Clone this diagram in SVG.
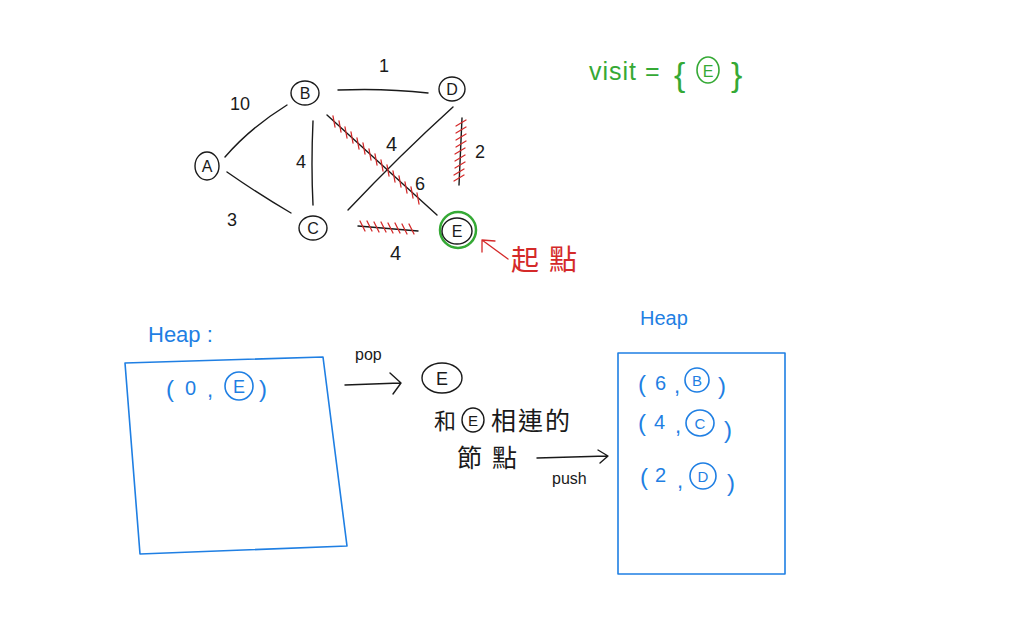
<svg xmlns="http://www.w3.org/2000/svg" width="1024" height="640" viewBox="0 0 1024 640">
<style>
.ink{fill:none;stroke:#1a1a1a;stroke-width:1.4;stroke-linecap:round;stroke-linejoin:round}
.red{fill:none;stroke:#d42a2a;stroke-width:1.3;stroke-linecap:round}
.blue{fill:none;stroke:#1f7fe3;stroke-width:1.6;stroke-linecap:round;stroke-linejoin:round}
.green{fill:none;stroke:#35a935;stroke-width:1.6;stroke-linecap:round}
text{font-family:"Liberation Sans","Noto Sans CJK TC",sans-serif;}
.t{fill:#1a1a1a}
.tb{fill:#1f7fe3}
.tg{fill:#35a935}
.tr{fill:#d42a2a}
.lbl{text-anchor:middle;fill:#1a1a1a}
</style>
<rect width="1024" height="640" fill="#ffffff"/>

<g id="connectors">
  <path class="ink" d="M225,157 Q250,128 287,105"/>
  <path class="ink" d="M227,172 Q260,195 291,213"/>
  <path class="ink" d="M338,90 Q385,88 428,93"/>
  <path class="ink" d="M313,121 Q311,165 313,205"/>
  <path class="ink" d="M327,115 L437,215"/>
  <path class="ink" d="M453,107 Q400,155 348,210"/>
  <path class="ink" d="M462,118 L459,185"/>
  <path class="ink" d="M358,226 L418,231"/>
  <path class="red" d="M333,116 l2,11 M339,121 l2,11 M345,127 l2,11 M351,132 l2,11 M357,138 l2,11 M363,143 l2,11 M369,149 l2,11 M375,154 l2,11 M381,160 l2,11 M387,165 l2,11 M393,171 l2,11 M399,176 l2,11 M405,182 l2,11 M411,187 l2,11 M417,193 l2,11"/>
  <path class="red" d="M456,126 l10,-6 M456,133 l10,-6 M456,140 l10,-6 M456,147 l10,-6 M455,154 l10,-6 M455,161 l10,-6 M455,168 l10,-6 M454,175 l10,-6 M454,181 l10,-6"/>
  <path class="red" d="M360,221 l5,10 M367,221 l5,10 M374,222 l5,10 M381,222 l5,10 M388,223 l5,10 M395,223 l5,10 M402,224 l5,10 M409,224 l5,10"/>
  <text class="t" x="379" y="72" font-size="18">1</text>
  <text class="t" x="230" y="110" font-size="18">10</text>
  <text class="t" x="296" y="168" font-size="18">4</text>
  <text class="t" x="386" y="151" font-size="20">4</text>
  <text class="t" x="415" y="190" font-size="18">6</text>
  <text class="t" x="475" y="158" font-size="18">2</text>
  <text class="t" x="227" y="226" font-size="18">3</text>
  <text class="t" x="390" y="260" font-size="20">4</text>
  <path class="red" d="M508,259 L482,240 M482,240 L482,252 M482,240 L495,241"/>
  <path class="ink" d="M345,385 L400,383 M390,373 L401,383 L393,394"/>
  <path class="ink" d="M537,458 L607,456 M598,450 L608,456 L600,463"/>
</g>

<g id="node-A">
  <ellipse class="ink" cx="207" cy="166" rx="12" ry="14"/>
  <text class="lbl" x="207" y="172" font-size="16">A</text>
</g>
<g id="node-B">
  <ellipse class="ink" cx="305" cy="93" rx="14" ry="12"/>
  <text class="lbl" x="305" y="99" font-size="16">B</text>
</g>
<g id="node-C">
  <ellipse class="ink" cx="313" cy="228" rx="14" ry="12"/>
  <text class="lbl" x="313" y="234" font-size="16">C</text>
</g>
<g id="node-D">
  <ellipse class="ink" cx="452" cy="89" rx="13" ry="12"/>
  <text class="lbl" x="452" y="95" font-size="16">D</text>
</g>
<g id="node-E">
  <circle cx="458" cy="230" r="18" fill="none" stroke="#35a935" stroke-width="2.5"/>
  <ellipse class="ink" cx="457" cy="231" rx="15" ry="13"/>
  <text class="lbl" x="457" y="237" font-size="16">E</text>
</g>
<g id="start-label">
  <text class="tr" x="511" y="270" font-size="28" letter-spacing="10">起點</text>
</g>

<g id="visit">
  <text class="tg" x="589" y="80" font-size="25" letter-spacing="1">visit =</text>
  <text class="tg" x="674" y="86" font-size="34">{</text>
  <ellipse class="green" cx="708" cy="70" rx="11" ry="13"/>
  <text class="tg" x="708" y="77" font-size="16" text-anchor="middle">E</text>
  <text class="tg" x="731" y="86" font-size="34">}</text>
</g>

<g id="heap-left">
  <text class="tb" x="148" y="342" font-size="22">Heap :</text>
  <path class="blue" d="M125,363 L323,357 L347,546 L140,554 Z"/>
  <text class="tb" x="166" y="397" font-size="24">(</text>
  <text class="tb" x="185" y="395" font-size="20">0</text>
  <text class="tb" x="207" y="397" font-size="22">,</text>
  <circle class="blue" cx="239" cy="386" r="14"/>
  <text class="tb" x="239" y="393" font-size="18" text-anchor="middle">E</text>
  <text class="tb" x="259" y="397" font-size="24">)</text>
</g>

<g id="pop">
  <text class="t" x="355" y="360" font-size="16">pop</text>
  <ellipse class="ink" cx="442" cy="378" rx="20" ry="15"/>
  <text class="t" x="442" y="385" font-size="18" text-anchor="middle">E</text>
</g>

<g id="neighbors">
  <text class="t" x="434" y="429" font-size="22">和</text>
  <ellipse class="ink" cx="473" cy="420" rx="11" ry="12"/>
  <text class="t" x="473" y="426" font-size="15" text-anchor="middle">E</text>
  <text class="t" x="491" y="430" font-size="25" letter-spacing="2">相連的</text>
  <text class="t" x="457" y="467" font-size="25" letter-spacing="10">節點</text>
  <text class="t" x="552" y="484" font-size="16">push</text>
</g>

<g id="heap-right">
  <text class="tb" x="640" y="325" font-size="20">Heap</text>
  <rect class="blue" x="618" y="353" width="167" height="221"/>
  <text class="tb" x="638" y="392" font-size="24">(</text>
  <text class="tb" x="655" y="390" font-size="20">6</text>
  <text class="tb" x="674" y="393" font-size="22">,</text>
  <circle class="blue" cx="697" cy="380" r="12"/>
  <text class="tb" x="697" y="386" font-size="15" text-anchor="middle">B</text>
  <text class="tb" x="718" y="394" font-size="24">)</text>
  <text class="tb" x="638" y="431" font-size="24">(</text>
  <text class="tb" x="654" y="429" font-size="20">4</text>
  <text class="tb" x="675" y="433" font-size="22">,</text>
  <ellipse class="blue" cx="700" cy="423" rx="14" ry="13"/>
  <text class="tb" x="700" y="429" font-size="15" text-anchor="middle">C</text>
  <text class="tb" x="724" y="438" font-size="24">)</text>
  <text class="tb" x="640" y="485" font-size="24">(</text>
  <text class="tb" x="655" y="482" font-size="20">2</text>
  <text class="tb" x="677" y="488" font-size="22">,</text>
  <circle class="blue" cx="703" cy="476" r="13"/>
  <text class="tb" x="703" y="482" font-size="15" text-anchor="middle">D</text>
  <text class="tb" x="727" y="491" font-size="24">)</text>
</g>
</svg>
